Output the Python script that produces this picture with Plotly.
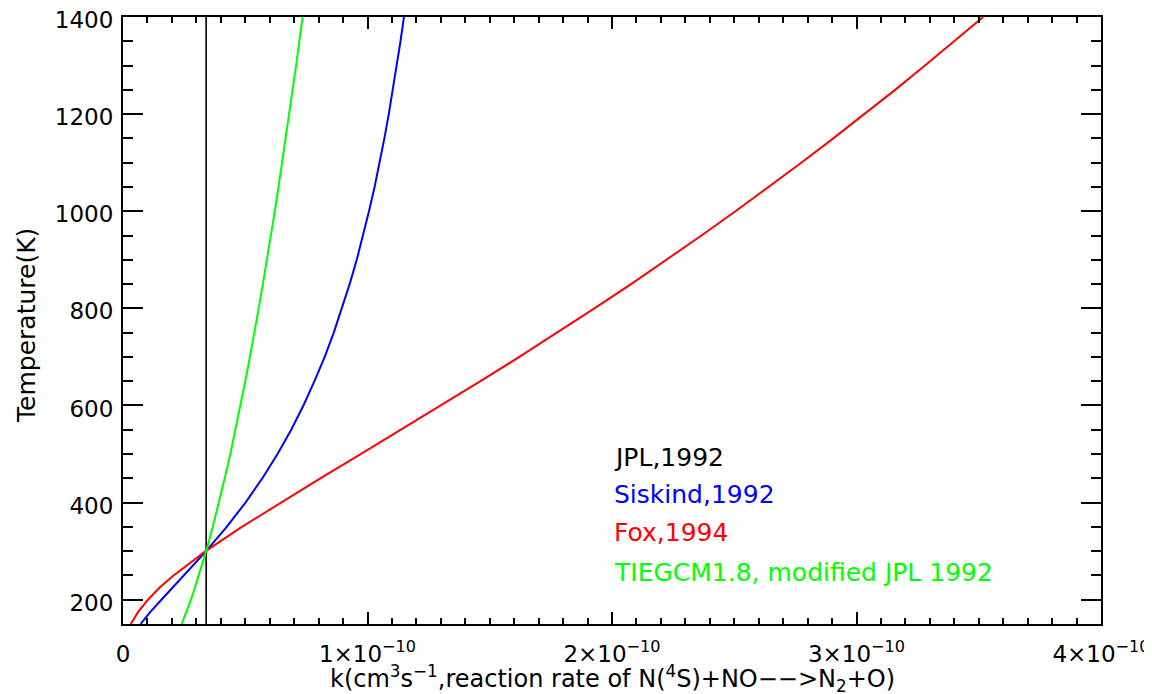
import plotly.graph_objects as go

# Temperatures (K) at which the curves were digitized
temps = [150, 175, 200, 225, 250, 275, 300, 350, 400, 450, 500, 550, 600, 650, 700,
         750, 800, 850, 900, 950, 1000, 1050, 1100, 1150, 1200, 1250, 1300, 1350, 1400]

# Reaction rate k, in units of 1e-10 cm^3 s^-1
fox_1994 = [0.032, 0.062, 0.102, 0.150, 0.207, 0.270, 0.338, 0.486, 0.644, 0.807, 0.972,
            1.137, 1.301, 1.462, 1.621, 1.776, 1.928, 2.078, 2.223, 2.366, 2.505, 2.641,
            2.774, 2.905, 3.033, 3.158, 3.280, 3.400, 3.518]
siskind_1992 = [0.072, 0.112, 0.157, 0.203, 0.249, 0.295, 0.340, 0.424, 0.501, 0.570, 0.632,
                0.688, 0.738, 0.783, 0.825, 0.862, 0.896, 0.927, 0.956, 0.982, 1.006, 1.029,
                1.050, 1.069, 1.087, 1.104, 1.120, 1.135, 1.149]
tiegcm_mod_jpl = [0.240, 0.260, 0.278, 0.294, 0.310, 0.326, 0.340, 0.367, 0.393, 0.416, 0.439,
                  0.460, 0.481, 0.500, 0.519, 0.538, 0.555, 0.572, 0.589, 0.605, 0.621, 0.636,
                  0.651, 0.666, 0.680, 0.694, 0.708, 0.721, 0.735]
jpl_1992_k = 0.34      # constant, 1e-10 units
jpl_temps = [150, 1400]

scale = 1e-10
x_tickvals = [0, 1e-10, 2e-10, 3e-10, 4e-10]
x_ticktext = ["0", "1×10<sup>−10</sup>", "2×10<sup>−10</sup>", "3×10<sup>−10</sup>", "4×10<sup>−10</sup>"]
y_tickvals = [200, 400, 600, 800, 1000, 1200, 1400]

legend_labels = ["JPL,1992", "Siskind,1992", "Fox,1994", "TIEGCM1.8, modified JPL 1992"]
legend_colors = ["#000000", "#0000FF", "#FF0000", "#00FF00"]
legend_y = [493, 416, 338, 257]
legend_x = 2.0e-10

FONT = "DejaVu Sans"

fig = go.Figure()
fig.add_trace(go.Scatter(x=[jpl_1992_k * scale] * 2, y=jpl_temps, mode="lines",
                         line=dict(color="#000000", width=1.6), showlegend=False))
fig.add_trace(go.Scatter(x=[v * scale for v in siskind_1992], y=temps, mode="lines",
                         line=dict(color="#0000FF", width=2), showlegend=False))
fig.add_trace(go.Scatter(x=[v * scale for v in fox_1994], y=temps, mode="lines",
                         line=dict(color="#FF0000", width=2), showlegend=False))
fig.add_trace(go.Scatter(x=[v * scale for v in tiegcm_mod_jpl], y=temps, mode="lines",
                         line=dict(color="#00FF00", width=2), showlegend=False))

for lab, col, yy in zip(legend_labels, legend_colors, legend_y):
    fig.add_annotation(x=legend_x, y=yy, xref="x", yref="y", text=lab, showarrow=False,
                       xanchor="left", yanchor="middle",
                       font=dict(family=FONT, size=25, color=col))

fig.add_annotation(x=0.5, y=0, xref="paper", yref="paper", yshift=-54,
                   text="k(cm<sup>3</sup>s<sup>−1</sup>,reaction rate of N(<sup>4</sup>S)+NO−−>N<sub>2</sub>+O)",
                   showarrow=False, xanchor="center", yanchor="middle",
                   font=dict(family=FONT, size=24, color="#000000"))
fig.add_annotation(x=0, y=0.491, xref="paper", yref="paper", xshift=-96,
                   text="Temperature(K)", textangle=-90,
                   showarrow=False, xanchor="center", yanchor="middle",
                   font=dict(family=FONT, size=25, color="#000000"))

# The page body adds an 8 px margin, so the figure is sized to fit the window.
fig.update_layout(
    width=1144, height=686,
    margin=dict(l=115, r=51, t=9, b=70),
    paper_bgcolor="white", plot_bgcolor="white",
    font=dict(family=FONT, size=23, color="#000000"),
    xaxis=dict(range=[0, 4e-10], tickvals=x_tickvals, ticktext=x_ticktext, automargin=False,
               showgrid=False, zeroline=False, showline=True, linecolor="#000000",
               linewidth=2, mirror="allticks", ticks="inside", ticklen=12, tickwidth=2,
               tickcolor="#000000", ticklabelstandoff=8, ticklabeloverflow="allow",
               tickfont=dict(family=FONT, size=23, color="#000000"),
               minor=dict(ticks="inside", ticklen=6, tickwidth=2, dtick=1e-11,
                          tickcolor="#000000", showgrid=False)),
    yaxis=dict(range=[150, 1400], tickvals=y_tickvals, automargin=False,
               showgrid=False, zeroline=False, showline=True, linecolor="#000000",
               linewidth=2, mirror="allticks", ticks="inside", ticklen=20, tickwidth=2,
               tickcolor="#000000", ticklabelstandoff=3, ticklabeloverflow="allow",
               ticklabelshift=3,
               tickfont=dict(family=FONT, size=23, color="#000000"),
               minor=dict(ticks="inside", ticklen=10, tickwidth=2, dtick=50,
                          tickcolor="#000000", showgrid=False)),
)

fig.write_html("out.html")
